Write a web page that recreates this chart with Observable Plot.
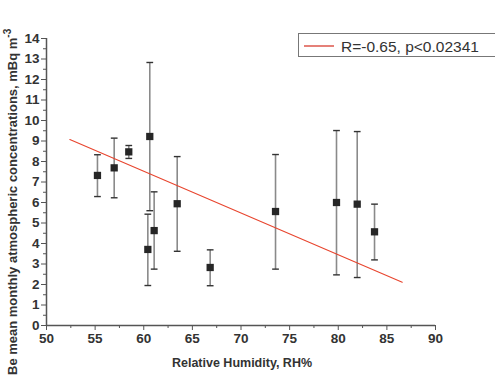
<!DOCTYPE html>
<html>
<head>
<meta charset="utf-8">
<script src="https://cdn.jsdelivr.net/npm/d3@7"></script>
<script src="https://cdn.jsdelivr.net/npm/@observablehq/plot@0.6"></script>
<style>
  html, body { margin: 0; padding: 0; background: #fff; }
  #chart { width: 495px; height: 378px; overflow: hidden; }
</style>
</head>
<body>
<div id="chart"></div>
<script>
// Relative humidity (%) of each monthly mean
const humidity = [55.24, 56.96, 58.46, 60.62, 60.42, 61.07, 63.44, 66.83, 73.55, 79.82, 81.95, 83.73];
// Be mean monthly atmospheric concentration (mBq m^-3)
const concentration = [7.32, 7.69, 8.47, 9.22, 3.71, 4.63, 5.94, 2.83, 5.56, 6.00, 5.92, 4.57];
const errorUpper = [8.33, 9.14, 8.78, 12.83, 5.43, 6.52, 8.24, 3.69, 8.34, 9.51, 9.46, 5.92];
const errorLower = [6.29, 6.23, 8.15, 5.60, 1.95, 2.75, 3.62, 1.94, 2.75, 2.47, 2.34, 3.20];
// Linear fit end points
const fitX = [52.4, 86.58];
const fitY = [9.07, 2.11];
const xTicks = [50, 55, 60, 65, 70, 75, 80, 85, 90];
const yTicks = [0, 1, 2, 3, 4, 5, 6, 7, 8, 9, 10, 11, 12, 13, 14];
const legendText = "R=-0.65, p<0.02341";

const data = humidity.map((x, i) => ({x, y: concentration[i], hi: errorUpper[i], lo: errorLower[i]}));
const fit = fitX.map((x, i) => ({x, y: fitY[i]}));
const xMinor = xTicks.slice(0, -1).map(v => v + 2.5);
const yMinor = yTicks.slice(0, -1).map(v => v + 0.5);

const capSymbol = {
  draw(ctx, size) {
    const w = Math.sqrt(size) / 2;
    ctx.moveTo(-w, 0);
    ctx.lineTo(w, 0);
  }
};

const plot = Plot.plot({
  width: 495,
  height: 378,
  marginLeft: 46,
  marginRight: 60,
  marginTop: 38,
  marginBottom: 53,
  style: {fontFamily: "'Liberation Sans', Arial, sans-serif", fontSize: "13.5px", fontWeight: "bold", color: "#3a3a3a", background: "#fff"},
  x: {domain: [50, 90]},
  y: {domain: [0, 14]},
  marks: [
    Plot.axisX({ticks: xMinor, tickSize: 3, tickFormat: () => "", label: null, stroke: "#555"}),
    Plot.axisX({ticks: xTicks, tickSize: 5, tickPadding: 3, label: null, stroke: "#555", fill: "#333"}),
    Plot.axisY({ticks: yMinor, tickSize: 3, tickFormat: () => "", label: null, stroke: "#555"}),
    Plot.axisY({ticks: yTicks, tickSize: 5, tickPadding: 2, label: null, stroke: "#555", fill: "#333"}),
    Plot.ruleY([0], {stroke: "#555", strokeWidth: 1.5}),
    Plot.ruleX([50], {stroke: "#555", strokeWidth: 1.5}),
    Plot.link(data, {x1: "x", x2: "x", y1: "lo", y2: "hi", stroke: "#8a8a8a", strokeWidth: 1.6}),
    Plot.dot(data, {x: "x", y: "hi", symbol: capSymbol, r: 3.8, stroke: "#333", strokeWidth: 1.4}),
    Plot.dot(data, {x: "x", y: "lo", symbol: capSymbol, r: 3.8, stroke: "#333", strokeWidth: 1.4}),
    Plot.line(fit, {x: "x", y: "y", stroke: "#e8452e", strokeWidth: 1.1}),
    Plot.dot(data, {x: "x", y: "y", symbol: "square", r: 4.1, fill: "#262626", stroke: "none"})
  ]
});

document.getElementById("chart").appendChild(plot);

const svg = d3.select(plot);
// x axis title
svg.append("text")
  .attr("x", 242).attr("y", 367)
  .attr("text-anchor", "middle")
  .attr("font-size", 12.5).attr("font-weight", "bold").attr("fill", "#333")
  .text("Relative Humidity, RH%");
// y axis title (rotated)
const yl = svg.append("text")
  .attr("transform", "translate(16.5,375) rotate(-90)")
  .attr("text-anchor", "start")
  .attr("font-size", 13).attr("font-weight", "bold").attr("fill", "#333");
yl.append("tspan").text("Be mean monthly atmospheric concentrations, mBq m");
yl.append("tspan").attr("dy", -6).attr("font-size", 10).text("-3");

// legend
const lg = svg.append("g");
lg.append("rect").attr("x", 298.5).attr("y", 33.5).attr("width", 210).attr("height", 23)
  .attr("fill", "#fff").attr("stroke", "#777").attr("stroke-width", 1);
lg.append("line").attr("x1", 304).attr("x2", 334).attr("y1", 46).attr("y2", 46)
  .attr("stroke", "#d42a1e").attr("stroke-width", 1.2);
lg.append("text").attr("x", 341).attr("y", 51.5)
  .attr("text-anchor", "start")
  .attr("font-size", 15.5).attr("font-weight", "normal").attr("fill", "#333")
  .text(legendText);
</script>
</body>
</html>
